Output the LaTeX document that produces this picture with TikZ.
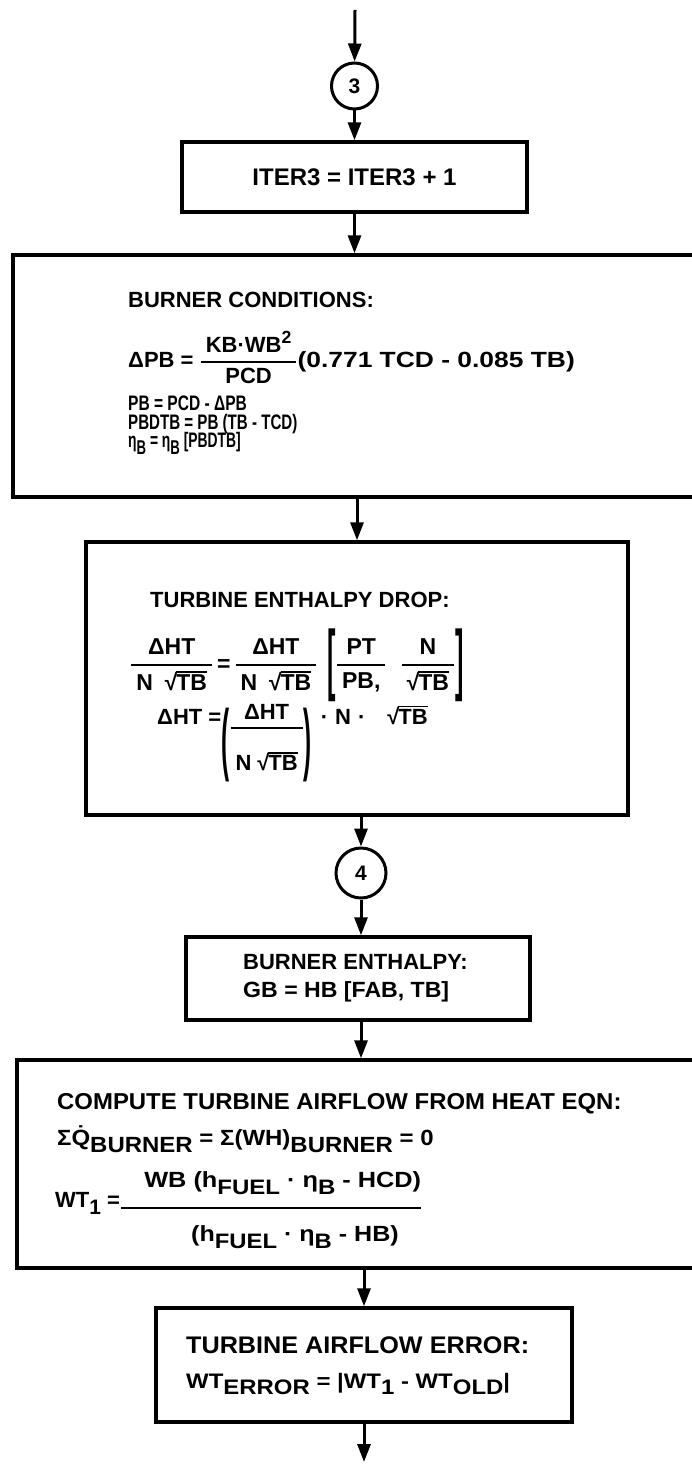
\documentclass[tikz,border=0pt]{standalone}
\usepackage{amsmath}
\usepackage{exscale}
\usepackage{graphicx}
\usepackage{fontspec}
\setmainfont{Liberation Sans}
\usetikzlibrary{arrows.meta,calc}
\newcommand\bfrac[2]{\genfrac{}{}{1.8pt}{0}{\hbox{\kern5pt#1\kern5pt}}{\hbox{\kern5pt#2\kern5pt}}}
\newcommand\lo[2][0.95]{\raisebox{-0.33em}{\scalebox{#1}{#2}}}
\newcommand\hi[1]{\raisebox{0.45em}{\scalebox{0.8}{#1}}}
\newcommand\rt[1]{\mbox{√\kern-1.2pt\vbox{\hrule height 1.8pt\kern 1.5pt\hbox{#1}}}}
\newcommand\lb{\vcenter{\hbox{\scalebox{1.1}[3.4]{[}}}}
\newcommand\rb{\vcenter{\hbox{\scalebox{1.1}[3.4]{]}}}}
\newcommand\xs[2]{\scalebox{#1}[1]{#2}}
\begin{document}
\begin{tikzpicture}[x=1pt,y=-1pt,
  box/.style={draw, line width=3.4pt, inner sep=0pt},
  conn/.style={circle, draw, line width=3pt, minimum size=46pt, inner sep=0pt,
    font=\bfseries\fontsize{21}{22}\selectfont},
  arr/.style={line width=3pt, -{Triangle[length=18pt,width=13pt]}},
  txt/.style={inner sep=0pt, anchor=base west, font=\bfseries\fontsize{22}{26}\selectfont},
  condensed/.style={font=\bfseries\fontsize{21}{22}\selectfont}]
\useasboundingbox (0,0) rectangle (692,1466);
\clip (0,0) rectangle (692,1466);
% boxes and connector circles
\coordinate (top) at (355,10);
\node[conn] (c3) at (354.5,86) {3};
\node[box, minimum width=345pt, minimum height=70pt, font=\bfseries\fontsize{24}{28}\selectfont] (iter) at (354.5,177) {ITER3 = ITER3 + 1};
\node[box, minimum width=697pt, minimum height=242pt] (burner) at (361.5,376) {};
\node[box, minimum width=542pt, minimum height=273pt] (turb) at (357,678.5) {};
\node[conn, minimum size=50pt] (c4) at (361,873) {4};
\node[box, minimum width=344pt, minimum height=83pt] (be) at (358,978.5) {};
\node[box, minimum width=693pt, minimum height=208pt] (comp) at (363.5,1164) {};
\node[box, minimum width=416pt, minimum height=114pt] (tae) at (364,1365) {};
\coordinate (end) at (364,1462);
% connectors
\draw[arr] (top) -- (c3);
\draw[arr] (c3) -- (c3 |- iter.north);
\draw[arr] (iter.south) -- (iter.south |- burner.north);
\draw[arr] (turb.north |- burner.south) -- (turb.north);
\draw[arr] (c4 |- turb.south) -- (c4);
\draw[arr] (c4) -- (c4 |- be.north);
\draw[arr] (c4 |- be.south) -- (c4 |- comp.north);
\draw[arr] (tae.north |- comp.south) -- (tae.north);
\draw[arr] (tae.south) -- (end);
% burner conditions
\node[txt] (bt1) at (128,307) {BURNER CONDITIONS:};
\node[txt] (bt2) at (128,367) {ΔPB = $\bfrac{KB·WB\hi{2}}{PCD}$\xs{1.2}{(0.771 TCD - 0.085 TB)}};
\node[txt, condensed] (bt3) at (128,410) {\xs{0.74}{PB = PCD - ΔPB}};
\node[txt, condensed] (bt4) at (128,429) {\xs{0.72}{PBDTB = PB (TB - TCD)}};
\node[txt, condensed] (bt5) at (128,447.5) {\xs{0.66}{η\lo{B} = η\lo{B} [PBDTB]}};
% turbine enthalpy drop
\node[txt] (tt1) at (150,607) {TURBINE ENTHALPY DROP:};
\node[txt, font=\bfseries\fontsize{23}{26}\selectfont] (tt2) at (130,671) {$\bfrac{ΔHT}{N\hspace{12pt}\rt{TB}}\hbox{\,=\,}\bfrac{ΔHT}{N\hspace{12pt}\rt{TB}}\kern10pt\lb\bfrac{PT}{PB,}\kern14pt\bfrac{N}{\rt{TB}}\rb$};
\node[txt] (tt3) at (157,724) {ΔHT =\raisebox{-41pt}{\scalebox{1.1}[3.6]{(}}\raisebox{-9.5pt}{$\bfrac{ΔHT}{\rule{0pt}{36pt}N\kern6pt\rt{TB}}$}\raisebox{-41pt}{\scalebox{1.1}[3.6]{)}}\kern9pt·\kern7pt N\kern7pt·\kern22pt\rt{TB}};
% burner enthalpy
\node[txt] (bet1) at (243,969) {BURNER ENTHALPY:};
\node[txt] (bet2) at (243,997) {\xs{1.05}{GB = HB [FAB, TB]}};
% compute turbine airflow
\node[txt, font=\bfseries\fontsize{23}{26}\selectfont] (ct1) at (57,1109) {\xs{1.04}{COMPUTE TURBINE AIRFLOW FROM HEAT EQN:}};
\node[txt] (ct2) at (57,1145) {\xs{1.09}{Σ\.{Q}\lo[1]{BURNER} = Σ(WH)\lo[1]{BURNER} = 0}};
\node[txt] (ct3) at (55,1213) {\raisebox{6pt}{WT\lo{1} =}$\genfrac{}{}{1.8pt}{0}{\makebox[300pt][r]{\rule[-14pt]{0pt}{1pt}\xs{1.15}{WB (h\lo{FUEL} · η\lo{B} - HCD)}}}{\makebox[300pt][l]{\hspace*{70pt}\rule{0pt}{27pt}\xs{1.14}{(h\lo{FUEL} · η\lo{B} - HB)}}}$};
% turbine airflow error
\node[txt, font=\bfseries\fontsize{24}{28}\selectfont] (et1) at (186,1353) {\xs{1.05}{TURBINE AIRFLOW ERROR:}};
\node[txt, font=\bfseries\fontsize{21}{24}\selectfont] (et2) at (186,1388) {\xs{1.14}{WT\lo[1]{ERROR} = |WT\lo[1]{1} - WT\lo[1]{OLD}|}};
\end{tikzpicture}
\end{document}
